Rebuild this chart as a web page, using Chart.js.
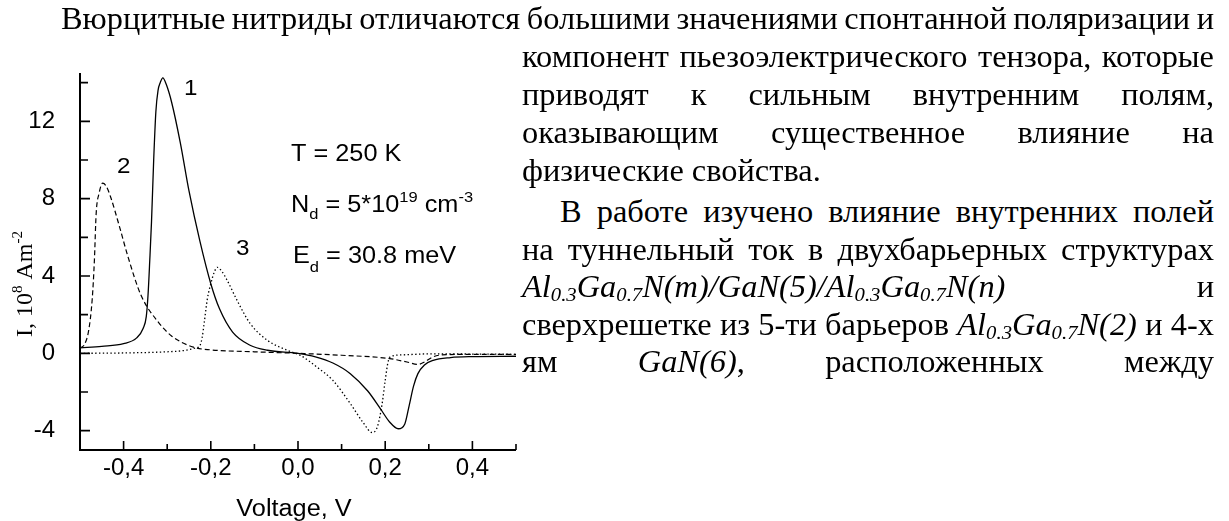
<!DOCTYPE html>
<html><head><meta charset="utf-8">
<script src="https://cdn.jsdelivr.net/npm/chart.js@4.4.1/dist/chart.umd.min.js"></script>
<style>
html,body{margin:0;padding:0;background:#fff;}
body{width:1229px;height:521px;position:relative;overflow:hidden;}
#c{position:absolute;left:0;top:0;}
.ln{position:absolute;font-family:"Liberation Serif","Times New Roman",serif;font-size:31px;line-height:31px;white-space:pre;color:#000;transform-origin:0 0;}
.ln i{font-style:italic}
.ln sub{font-size:0.64em;vertical-align:baseline;position:relative;top:0.22em;line-height:0}
</style></head><body>
<canvas id="c" width="545" height="521"></canvas>
<div id="text"></div>
<script>
// ---- data ----
const curve1V = [-0.5,-0.45,-0.40,-0.37,-0.355,-0.348,-0.344,-0.340,-0.336,-0.331,-0.326,-0.321,-0.316,-0.310,-0.302,-0.29,-0.27,-0.25,-0.225,-0.20,-0.18,-0.15,-0.11,-0.07,0.0,0.04,0.08,0.12,0.16,0.19,0.21,0.23,0.245,0.255,0.265,0.275,0.29,0.31,0.35,0.40,0.50];
const curve1I = [0.28,0.36,0.50,0.80,1.30,1.90,3.00,4.80,6.80,10.0,12.5,13.6,14.0,14.25,13.9,13.0,10.9,8.4,5.8,3.6,2.3,1.1,0.42,0.16,0.0,-0.18,-0.50,-1.05,-1.95,-2.9,-3.55,-3.9,-3.65,-2.7,-1.7,-1.05,-0.6,-0.36,-0.22,-0.17,-0.15];

const curve2V = [-0.5,-0.49,-0.48,-0.472,-0.467,-0.463,-0.456,-0.448,-0.44,-0.43,-0.41,-0.39,-0.36,-0.32,-0.29,-0.24,-0.20,-0.10,0.0,0.10,0.21,0.25,0.275,0.29,0.31,0.33,0.40,0.50];
const curve2I = [0.28,0.45,1.2,2.8,4.8,7.2,8.3,8.8,8.65,8.1,6.6,5.0,3.0,1.6,0.9,0.32,0.18,0.08,0.0,-0.1,-0.27,-0.45,-0.57,-0.45,-0.18,-0.08,-0.05,-0.05];

const curve3V = [-0.5,-0.4,-0.3,-0.26,-0.235,-0.225,-0.22,-0.215,-0.208,-0.2,-0.192,-0.185,-0.175,-0.163,-0.14,-0.11,-0.07,-0.025,0.005,0.044,0.08,0.12,0.15,0.17,0.182,0.193,0.2,0.207,0.215,0.24,0.3,0.5];
const curve3I = [0.0,0.02,0.08,0.15,0.28,0.4,0.8,1.6,2.8,3.6,4.2,4.45,4.25,3.8,2.75,1.55,0.67,0.16,-0.1,-0.72,-1.4,-2.6,-3.6,-4.1,-3.8,-2.6,-1.4,-0.4,-0.15,-0.08,-0.03,-0.05];

const xTickValues = [-0.4,-0.2,0.0,0.2,0.4];
const xMinorValues = [-0.3,-0.1,0.1,0.3,0.5];
const yTickValues = [-4,0,4,8,12];
const yMinorValues = [-2,2,6,10,14];
const curveLabels = ['1','2','3'];

// ---- body text ----
const bodyLines = [
  {h:'Вюрцитные нитриды отличаются большими значениями спонтанной поляризации и', l:61, b:29, j:true},
  {h:'компонент пьезоэлектрического тензора, которые', l:522, b:67, j:true},
  {h:'приводят к сильным внутренним полям,', l:522, b:105, j:true},
  {h:'оказывающим существенное влияние на', l:522, b:143, j:true},
  {h:'физические свойства.', l:522, b:181, j:false},
  {h:'В работе изучено влияние внутренних полей', l:560, b:222, j:true},
  {h:'на туннельный ток в двухбарьерных структурах', l:522, b:259.5, j:true},
  {h:'<i>Al<sub>0.3</sub>Ga<sub>0.7</sub>N(m)/GaN(5)/Al<sub>0.3</sub>Ga<sub>0.7</sub>N(n)</i> и', l:522, b:297, j:true},
  {h:'сверхрешетке из 5-ти барьеров <i>Al<sub>0.3</sub>Ga<sub>0.7</sub>N(2)</i> и 4-х', l:522, b:334.5, j:true},
  {h:'ям <i>GaN(6)</i>, расположенных между', l:522, b:372, j:true}
];
const RIGHT_EDGE = 1214, SX = 1.045;
const host = document.getElementById('text');
const spans = bodyLines.map(L => {
  const d = document.createElement('div');
  d.className = 'ln';
  d.innerHTML = L.h;
  d.style.left = L.l + 'px';
  d.style.top = (L.b - 26) + 'px';
  d.style.transform = 'scaleX(' + SX + ')';
  host.appendChild(d);
  return d;
});
function justify(){
  bodyLines.forEach((L,i) => {
    const d = spans[i];
    d.style.wordSpacing = '0px';
    if (!L.j) return;
    const nat = d.getBoundingClientRect().width / SX;
    const target = (RIGHT_EDGE - L.l) / SX;
    const n = (d.textContent.match(/ /g) || []).length;
    if (n > 0) d.style.wordSpacing = ((target - nat) / n) + 'px';
  });
}
justify();
if (document.fonts && document.fonts.ready) document.fonts.ready.then(justify);

// ---- chart ----
const toPts = (vs, is) => vs.map((v, k) => ({x: v, y: is[k]}));
const fmtX = v => (Math.abs(v) < 1e-9 ? 0 : v).toFixed(1).replace('.', ',');

function rich(ctx, x, y, parts, sx, family) {
  ctx.save();
  ctx.translate(x, y);
  ctx.scale(sx, 1);
  let cx = 0;
  for (const p of parts) {
    ctx.font = p.s + 'px ' + family;
    ctx.fillText(p.t, cx, p.dy || 0);
    cx += ctx.measureText(p.t).width;
  }
  ctx.restore();
}

const SANS = '"Liberation Sans", Arial, sans-serif';
const SERIF = '"Liberation Serif", "Times New Roman", serif';
const TSX = 1.1;

const decorPlugin = {
  id: 'decor',
  afterDraw(chart) {
    const {ctx, chartArea: a, scales: {x, y}} = chart;
    ctx.save();
    ctx.strokeStyle = '#000';
    ctx.lineWidth = 2;
    ctx.beginPath();
    ctx.moveTo(a.left, a.top);
    ctx.lineTo(a.left, a.bottom);
    ctx.lineTo(a.right, a.bottom);
    ctx.stroke();
    ctx.lineWidth = 1.6;
    ctx.beginPath();
    yTickValues.forEach(v => { const p = y.getPixelForValue(v); ctx.moveTo(a.left, p); ctx.lineTo(a.left + 10, p); });
    yMinorValues.forEach(v => { const p = y.getPixelForValue(v); ctx.moveTo(a.left, p); ctx.lineTo(a.left + 8, p); });
    xTickValues.forEach(v => { const p = x.getPixelForValue(v); ctx.moveTo(p, a.bottom); ctx.lineTo(p, a.bottom - 9); });
    xMinorValues.forEach(v => { const p = x.getPixelForValue(v); ctx.moveTo(p, a.bottom); ctx.lineTo(p, a.bottom - 6); });
    ctx.stroke();

    ctx.fillStyle = '#000';
    ctx.textBaseline = 'alphabetic';
    // curve numbers
    rich(ctx, 184, 95, [{t: curveLabels[0], s: 22}], TSX, SANS);
    rich(ctx, 117, 173, [{t: curveLabels[1], s: 22}], TSX, SANS);
    rich(ctx, 236, 255, [{t: curveLabels[2], s: 22}], TSX, SANS);
    // parameters
    rich(ctx, 291, 161, [{t: 'T = 250 K', s: 23}], TSX, SANS);
    rich(ctx, 291, 212, [{t: 'N', s: 23}, {t: 'd', s: 15, dy: 7}, {t: ' = 5*10', s: 23}, {t: '19', s: 15, dy: -10}, {t: ' cm', s: 23}, {t: '-3', s: 15, dy: -10}], TSX, SANS);
    rich(ctx, 293, 263, [{t: 'E', s: 23}, {t: 'd', s: 15, dy: 9}, {t: ' = 30.8 meV', s: 23}], TSX, SANS);
    // x title
    ctx.font = '23px ' + SANS;
    const xt = 'Voltage, V';
    const w = ctx.measureText(xt).width * TSX;
    rich(ctx, (a.left + a.right) / 2 - 4 - w / 2, 516, [{t: xt, s: 23}], TSX, SANS);
    // y title (rotated)
    ctx.save();
    ctx.translate(32, 337);
    ctx.rotate(-Math.PI / 2);
    rich(ctx, 0, 0, [{t: 'I, 10', s: 24}, {t: '8', s: 15, dy: -10}, {t: ' Am', s: 24}, {t: '-2', s: 15, dy: -10}], 1, SERIF);
    ctx.restore();
    ctx.restore();
  }
};

new Chart(document.getElementById('c'), {
  type: 'line',
  data: {
    datasets: [
      {label: curveLabels[0], data: toPts(curve1V, curve1I), borderColor: '#000', borderWidth: 1.3, pointRadius: 0, cubicInterpolationMode: 'monotone', fill: false},
      {label: curveLabels[1], data: toPts(curve2V, curve2I), borderColor: '#000', borderWidth: 1.2, borderDash: [5, 3], pointRadius: 0, cubicInterpolationMode: 'monotone', fill: false},
      {label: curveLabels[2], data: toPts(curve3V, curve3I), borderColor: '#000', borderWidth: 1.3, borderDash: [1.4, 2.4], pointRadius: 0, cubicInterpolationMode: 'monotone', fill: false}
    ]
  },
  options: {
    responsive: false,
    animation: false,
    layout: {padding: {left: 0, top: 73, right: 29, bottom: 0}},
    plugins: {legend: {display: false}, tooltip: {enabled: false}},
    scales: {
      x: {
        type: 'linear', min: -0.5, max: 0.5,
        grid: {display: false}, border: {display: false},
        afterBuildTicks: s => { s.ticks = xTickValues.map(v => ({value: v})); },
        afterFit: s => { s.height = 71; },
        ticks: {callback: v => fmtX(v), color: '#000', font: {family: SANS, size: 24}, padding: -4, maxRotation: 0, autoSkip: false}
      },
      y: {
        type: 'linear', min: -5, max: 14.5,
        grid: {display: false}, border: {display: false},
        afterBuildTicks: s => { s.ticks = yTickValues.map(v => ({value: v})); },
        afterFit: s => { s.width = 80; },
        ticks: {callback: v => String(v), color: '#000', font: {family: SANS, size: 24}, padding: 17, autoSkip: false}
      }
    }
  },
  plugins: [decorPlugin]
});
</script>
</body></html>
